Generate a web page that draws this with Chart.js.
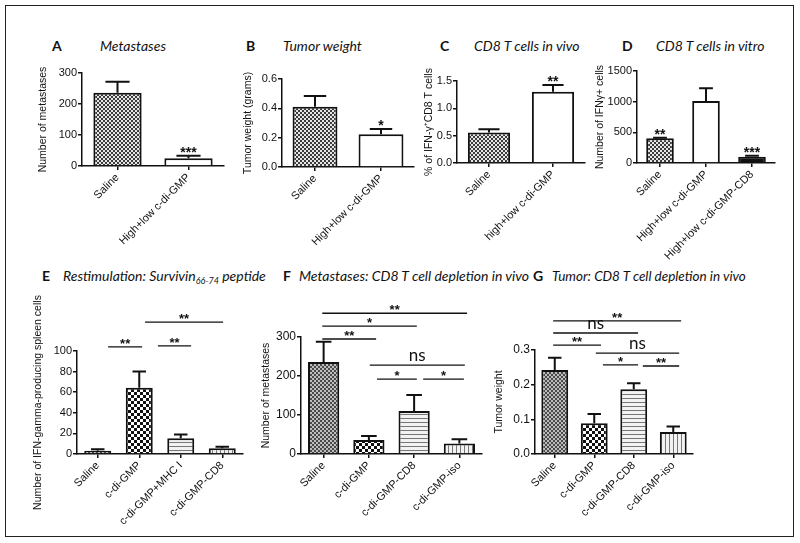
<!DOCTYPE html>
<html>
<head>
<meta charset="utf-8">
<script src="https://cdn.jsdelivr.net/npm/chart.js@4.4.0/dist/chart.umd.min.js"></script>
<style>
  html, body { margin: 0; padding: 0; background: #fff; }
  #fig { position: relative; width: 800px; height: 543px; overflow: hidden; }
  #frame { position: absolute; left: 5px; top: 5px; width: 787px; height: 530px; border: 1.5px solid #222; }
  canvas { position: absolute; }
  .ttl { position: absolute; font-family: Lato, "Open Sans", sans-serif; font-size: 14px; line-height: 16px; white-space: nowrap; color: #111; }
  .ttl.l { font-weight: bold; }
  .ttl.t { font-style: italic; }
  .ttl sub { font-size: 9px; vertical-align: -3px; line-height: 0; }
</style>
</head>
<body>
<div id="fig">
  <div id="frame"></div>
  <div class="ttl l" style="left:52px;top:38px">A</div>
  <div class="ttl t" style="left:100px;top:38px">Metastases</div>
  <div class="ttl l" style="left:246px;top:38px">B</div>
  <div class="ttl t" style="left:283px;top:38px">Tumor weight</div>
  <div class="ttl l" style="left:440px;top:38px">C</div>
  <div class="ttl t" style="left:474px;top:38px">CD8 T cells in vivo</div>
  <div class="ttl l" style="left:622px;top:38px">D</div>
  <div class="ttl t" style="left:656px;top:38px">CD8 T cells in vitro</div>
  <div class="ttl l" style="left:42px;top:268px">E</div>
  <div class="ttl t" style="left:63px;top:268px">Restimulation: Survivin<sub>66-74</sub> peptide</div>
  <div class="ttl l" style="left:283px;top:268px">F</div>
  <div class="ttl t" style="left:299px;top:268px">Metastases: CD8 T cell depletion in vivo</div>
  <div class="ttl l" style="left:533px;top:268px">G</div>
  <div class="ttl t" style="left:552px;top:268px;font-size:13.5px">Tumor: CD8 T cell depletion in vivo</div>
</div>
<script>
// ---- data ----
const catsA = ['Saline', 'High+low c-di-GMP'];
const valsA = [236, 25];
const semA = [36, 8];
const starsA = ['', '***'];

const catsB = ['Saline', 'High+low c-di-GMP'];
const valsB = [0.41, 0.223];
const semB = [0.074, 0.036];
const starsB = ['', '*'];

const catsC = ['Saline', 'high+low c-di-GMP'];
const valsC = [0.56, 1.305];
const semC = [0.057, 0.12];
const starsC = ['', '**'];

const catsD = ['Saline', 'High+low c-di-GMP', 'High+low c-di-GMP-CD8'];
const valsD = [403, 1011, 103];
const semD = [10, 208, 16];
const starsD = ['**', '', '***'];

const catsE = ['Saline', 'c-di-GMP', 'c-di-GMP+MHC I', 'c-di-GMP-CD8'];
const valsE = [3.2, 64.4, 15.2, 5.5];
const semE = [1.4, 15.6, 3.8, 1.6];
// comparisons: [from, to, level, label]
const sigE = [[0.25, 1.07, 104, '**'], [1.45, 2.25, 105, '**'], [1.14, 3.02, 128, '**']];

const catsF = ['Saline', 'c-di-GMP', 'c-di-GMP-CD8', 'c-di-GMP-iso'];
const valsF = [236, 36, 110, 27];
const semF = [52, 10, 41, 11];
const sigF = [[-0.03, 3.17, 361, '**'], [-0.03, 2.06, 328, '*'], [-0.03, 1.16, 295, '**'],
              [1.02, 3.12, 228, 'ns'], [1.18, 2.06, 192, '*'], [2.2, 3.1, 192, '*']];

const catsG = ['Saline', 'c-di-GMP', 'c-di-GMP-CD8', 'c-di-GMP-iso'];
const valsG = [0.242, 0.0885, 0.187, 0.0635];
const semG = [0.036, 0.027, 0.017, 0.016];
const sigG = [[-0.04, 3.2, 0.384, '**'], [-0.04, 2.11, 0.349, 'ns'], [-0.04, 1.17, 0.314, '**'],
              [1.04, 3.15, 0.291, 'ns'], [1.22, 2.11, 0.257, '*'], [2.23, 3.15, 0.254, '**']];

// ---- bar fills ----
function pattern(kind) {
  const c = document.createElement('canvas');
  const g = c.getContext('2d');
  if (kind === 'fine' || kind === 'fineGray') {
    c.width = 4; c.height = 4;
    g.fillStyle = kind === 'fine' ? '#3c3c3c' : '#4a4a4a';
    g.fillRect(0, 0, 4, 4);
    g.fillStyle = kind === 'fine' ? '#e6e6e6' : '#bdbdbd';
    g.fillRect(0, 0, 2, 2); g.fillRect(2, 2, 2, 2);
  } else if (kind === 'coarse') {
    c.width = 6; c.height = 6;
    g.fillStyle = '#fff'; g.fillRect(0, 0, 6, 6);
    g.fillStyle = '#111'; g.fillRect(0, 0, 3, 3); g.fillRect(3, 3, 3, 3);
  } else if (kind === 'hline') {
    c.width = 1; c.height = 4;
    g.fillStyle = '#f2f2f2'; g.fillRect(0, 0, 1, 4);
    g.fillStyle = '#777'; g.fillRect(0, 0, 1, 1);
  } else {
    c.width = 4; c.height = 1;
    g.fillStyle = '#f2f2f2'; g.fillRect(0, 0, 4, 1);
    g.fillStyle = '#777'; g.fillRect(0, 0, 1, 1);
  }
  return g.createPattern(c, 'repeat');
}
const fine = pattern('fine'), fineGray = pattern('fineGray'), coarse = pattern('coarse');
const hline = pattern('hline'), vline = pattern('vline');

// ---- error bars, stars and comparison lines ----
const extras = {
  id: 'extras',
  afterDatasetsDraw(chart, args, o) {
    const ctx = chart.ctx;
    const xs = chart.scales.x, ys = chart.scales.y;
    const bars = chart.getDatasetMeta(0).data;
    ctx.save();
    ctx.strokeStyle = '#111';
    ctx.fillStyle = '#111';
    ctx.textAlign = 'center';
    ctx.textBaseline = 'alphabetic';
    bars.forEach((b, i) => {
      const top = ys.getPixelForValue(o.vals[i] + o.sem[i]);
      const half = b.width * 0.25;
      ctx.lineWidth = 2;
      ctx.beginPath();
      ctx.moveTo(b.x, b.y);
      ctx.lineTo(b.x, top);
      ctx.moveTo(b.x - half, top);
      ctx.lineTo(b.x + half, top);
      ctx.stroke();
      if (o.stars && o.stars[i]) {
        ctx.font = 'bold 14px "Liberation Sans"';
        ctx.fillText(o.stars[i], b.x, top + 1);
      }
    });
    (o.sig || []).forEach(([a, c, lvl, lab]) => {
      const x1 = xs.getPixelForValue(a), x2 = xs.getPixelForValue(c);
      const y = ys.getPixelForValue(lvl);
      ctx.lineWidth = 1.4;
      ctx.beginPath();
      ctx.moveTo(x1, y);
      ctx.lineTo(x2, y);
      ctx.stroke();
      if (lab === 'ns') {
        ctx.font = '17px Lato';
        ctx.fillText(lab, (x1 + x2) / 2, y - 4);
      } else {
        ctx.font = 'bold 13px "Liberation Sans"';
        ctx.fillText(lab, (x1 + x2) / 2, y + 1);
      }
    });
    ctx.restore();
  }
};
Chart.register(extras);

const fig = document.getElementById('fig');
const ink = '#111';

function makePanel(p) {
  const [cx0, cy0, cx1, cy1] = p.canvas;
  const [pl, pt, pr, pb] = p.plot;
  const cv = document.createElement('canvas');
  cv.width = cx1 - cx0;
  cv.height = cy1 - cy0;
  cv.style.left = cx0 + 'px';
  cv.style.top = cy0 + 'px';
  fig.appendChild(cv);
  new Chart(cv, {
    type: 'bar',
    data: {
      labels: p.cats,
      datasets: [{
        data: p.vals,
        backgroundColor: p.fills,
        borderColor: ink,
        borderWidth: 2,
        borderSkipped: 'bottom',
        barPercentage: p.barPct,
        categoryPercentage: 1
      }]
    },
    options: {
      responsive: false,
      animation: false,
      devicePixelRatio: 1,
      layout: { padding: { top: pt - cy0, right: cx1 - pr, left: 0, bottom: 0 } },
      plugins: {
        legend: { display: false },
        tooltip: { enabled: false },
        extras: { vals: p.vals, sem: p.sem, stars: p.stars, sig: p.sig }
      },
      scales: {
        x: {
          offset: true,
          grid: { drawOnChartArea: false, offset: false, color: ink, lineWidth: 1.5, tickLength: 4 },
          border: { color: ink, width: 1.5 },
          ticks: {
            autoSkip: false, minRotation: 45, maxRotation: 45, padding: 1, color: ink,
            font: { family: '"Liberation Sans", Arial, sans-serif', size: p.xFont || 11 }
          },
          afterFit(s) { s.height = cy1 - pb; s.paddingLeft = 0; s.paddingRight = 0; }
        },
        y: {
          min: 0, max: p.ymax,
          grid: { drawOnChartArea: false, color: ink, lineWidth: 1.5, tickLength: 4 },
          border: { color: ink, width: 1.5 },
          ticks: {
            stepSize: p.step, padding: 1, color: ink,
            font: { family: '"Liberation Sans", Arial, sans-serif', size: p.tFont || 11 },
            callback: v => v.toFixed(p.dec || 0)
          },
          title: {
            display: true, text: p.ylabel, padding: 0, color: ink,
            font: { family: '"Liberation Sans", Arial, sans-serif', size: 10.5 }
          },
          afterFit(s) { s.width = pl - cx0; s.paddingTop = 0; s.paddingBottom = 0; }
        }
      }
    }
  });
}

makePanel({ canvas: [37, 40, 236, 270], plot: [82, 73, 224, 166], cats: catsA, vals: valsA, sem: semA,
  stars: starsA, fills: [fine, '#fff'], barPct: 0.68, ymax: 300, step: 100, ylabel: 'Number of metastases' });
makePanel({ canvas: [242, 40, 426, 270], plot: [282, 79, 414, 167], cats: catsB, vals: valsB, sem: semB,
  stars: starsB, fills: [fine, '#fff'], barPct: 0.68, ymax: 0.6, step: 0.2, dec: 1, ylabel: 'Tumor weight (grams)' });
makePanel({ canvas: [423, 40, 597, 270], plot: [457, 81, 585, 163], cats: catsC, vals: valsC, sem: semC,
  stars: starsC, fills: [fine, '#fff'], barPct: 0.66, ymax: 1.5, step: 0.5, dec: 1, ylabel: '% of IFN-γ⁺CD8 T cells' });
makePanel({ canvas: [594, 40, 790, 270], plot: [637, 71, 775, 163], cats: catsD, vals: valsD, sem: semD,
  stars: starsD, fills: [fine, '#fff', '#111'], barPct: 0.6, ymax: 1500, step: 500, ylabel: 'Number of IFNγ+ cells' });
makePanel({ canvas: [32, 290, 255, 535], plot: [77, 351, 243, 454], cats: catsE, vals: valsE, sem: semE,
  sig: sigE, fills: [fineGray, coarse, hline, vline], barPct: 0.65, ymax: 100, step: 20, tFont: 11,
  ylabel: 'Number of IFN-gamma-producing spleen cells' });
makePanel({ canvas: [260, 290, 495, 535], plot: [301, 337, 482, 454], cats: catsF, vals: valsF, sem: semF,
  sig: sigF, fills: [fineGray, coarse, hline, vline], barPct: 0.69, ymax: 300, step: 100, tFont: 12,
  ylabel: 'Number of metastases' });
makePanel({ canvas: [493, 290, 720, 535], plot: [535, 350, 693, 454], cats: catsG, vals: valsG, sem: semG,
  sig: sigG, fills: [fineGray, coarse, hline, vline], barPct: 0.68, ymax: 0.3, step: 0.1, dec: 1, tFont: 12,
  ylabel: 'Tumor weight' });
</script>
</body>
</html>
